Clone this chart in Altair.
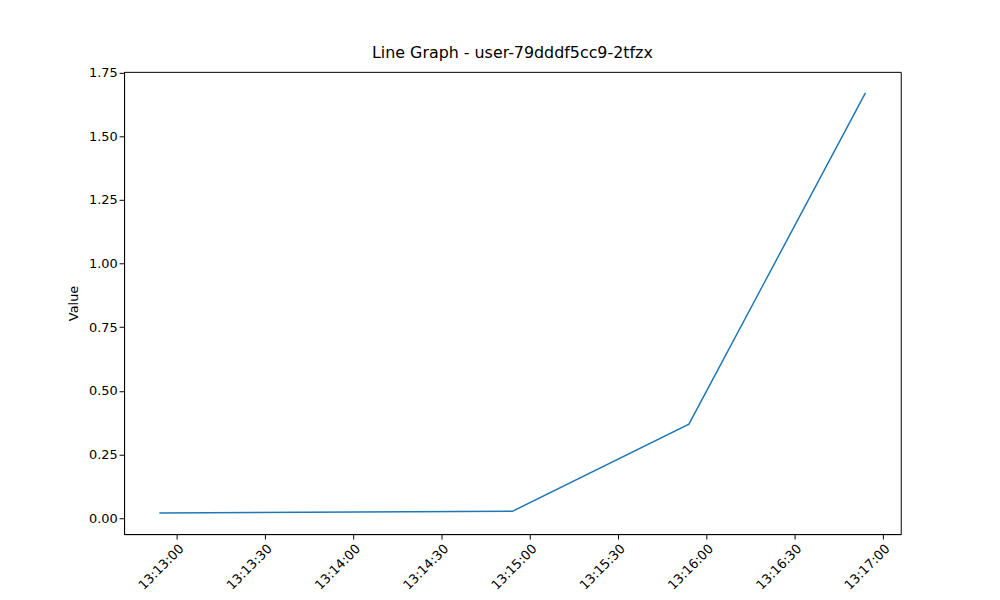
import altair as alt
import pandas as pd

times = ["2024-01-01T13:12:54Z", "2024-01-01T13:14:54Z", "2024-01-01T13:15:54Z", "2024-01-01T13:16:54Z"]
values = [0.02, 0.027, 0.369, 1.67]
tick_times = ["13:13:00", "13:13:30", "13:14:00", "13:14:30", "13:15:00", "13:15:30", "13:16:00", "13:16:30", "13:17:00"]
y_ticks = [0.0, 0.25, 0.5, 0.75, 1.0, 1.25, 1.5, 1.75]

df = pd.DataFrame({"time": times, "value": values})

def dt(s):
    h, m, sec = map(int, s.split(":"))
    return alt.DateTime(year=2024, month=1, date=1, hours=h, minutes=m, seconds=sec, utc=True)

chart = alt.Chart(df).mark_line(color="#1f77b4", strokeWidth=1.5).encode(
    x=alt.X("time:T", title=None,
            scale=alt.Scale(type="utc", domain=[dt("13:12:42"), dt("13:17:06")], nice=False),
            axis=alt.Axis(values=[dt(t) for t in tick_times], format="%H:%M:%S", labelAngle=-45,
                          labelAlign="right", labelBaseline="top", grid=False, tickSize=5,
                          labelFontSize=13, labelColor="black", domainColor="black", tickColor="black",
                          labelPadding=3)),
    y=alt.Y("value:Q", title="Value",
            scale=alt.Scale(domain=[-0.0625, 1.7525], nice=False, zero=False),
            axis=alt.Axis(values=y_ticks, format=".2f", grid=False, tickSize=5, labelFontSize=13,
                          labelColor="black", domainColor="black", tickColor="black",
                          titleFontSize=13, titleFontWeight="normal", titleColor="black", titlePadding=8)),
).properties(
    width=783, height=466,
    title=alt.Title("Line Graph - user-79dddf5cc9-2tfzx", fontSize=16, fontWeight="normal", color="black", offset=6),
    autosize=alt.AutoSizeParams(type="none"),
    padding={"left": 117, "top": 62, "right": 92, "bottom": 56},
).configure(font="DejaVu Sans").configure_view(stroke="black", strokeWidth=1, strokeOpacity=1)

chart.save("out.html", embed_options={"renderer": "svg", "actions": False})
